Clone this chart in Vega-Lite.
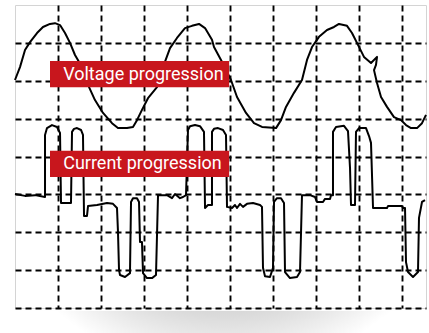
{
  "$schema": "https://vega.github.io/schema/vega-lite/v6.json",
  "width": 411,
  "height": 303,
  "autosize": "none",
  "padding": {"left": 15, "top": 5, "right": 3, "bottom": 25},
  "background": "white",
  "config": {
    "view": {"stroke": "#d4d4d4", "strokeWidth": 1},
    "axis": {"labels": false, "ticks": false, "domain": false, "title": null, "grid": true, "gridColor": "black", "gridDash": [6, 4], "gridWidth": 1.9, "gridOpacity": 1}
  },
  "datasets": {
    "voltage": [
      {"i":0,"t":0,"v":6.02},{"i":1,"t":0.116,"v":6.36},{"i":2,"t":0.233,"v":6.81},{"i":3,"t":0.349,"v":7.02},{"i":4,"t":0.512,"v":7.26},{"i":5,"t":0.651,"v":7.42},{"i":6,"t":0.814,"v":7.5},{"i":7,"t":0.93,"v":7.52},{"i":8,"t":1.047,"v":7.47},{"i":9,"t":1.163,"v":7.26},{"i":10,"t":1.279,"v":7.0},{"i":11,"t":1.395,"v":6.68},{"i":12,"t":1.558,"v":6.36},{"i":13,"t":1.698,"v":5.89},{"i":14,"t":1.86,"v":5.49},{"i":15,"t":2.047,"v":5.15},{"i":16,"t":2.256,"v":4.88},{"i":17,"t":2.395,"v":4.75},{"i":18,"t":2.605,"v":4.75},{"i":19,"t":2.744,"v":4.78},{"i":20,"t":2.837,"v":4.96},{"i":21,"t":2.953,"v":5.23},{"i":22,"t":3.093,"v":5.54},{"i":23,"t":3.302,"v":5.83},{"i":24,"t":3.442,"v":6.36},{"i":25,"t":3.605,"v":6.86},{"i":26,"t":3.767,"v":7.13},{"i":27,"t":3.953,"v":7.39},{"i":28,"t":4.116,"v":7.45},{"i":29,"t":4.279,"v":7.5},{"i":30,"t":4.419,"v":7.39},{"i":31,"t":4.581,"v":7.08},{"i":32,"t":4.628,"v":6.89},{"i":33,"t":4.791,"v":6.55},{"i":34,"t":5.023,"v":6.02},{"i":35,"t":5.163,"v":5.57},{"i":36,"t":5.372,"v":5.15},{"i":37,"t":5.558,"v":4.88},{"i":38,"t":5.744,"v":4.78},{"i":39,"t":6.07,"v":4.75},{"i":40,"t":6.186,"v":4.96},{"i":41,"t":6.302,"v":5.31},{"i":42,"t":6.488,"v":5.68},{"i":43,"t":6.674,"v":6.02},{"i":44,"t":6.791,"v":6.55},{"i":45,"t":6.907,"v":6.89},{"i":46,"t":7.07,"v":7.16},{"i":47,"t":7.256,"v":7.34},{"i":48,"t":7.419,"v":7.42},{"i":49,"t":7.535,"v":7.5},{"i":50,"t":7.721,"v":7.45},{"i":51,"t":7.837,"v":7.26},{"i":52,"t":7.953,"v":7.0},{"i":53,"t":8.116,"v":6.63},{"i":54,"t":8.279,"v":6.47},{"i":55,"t":8.419,"v":6.63},{"i":56,"t":8.395,"v":6.42},{"i":57,"t":8.349,"v":6.28},{"i":58,"t":8.419,"v":5.94},{"i":59,"t":8.512,"v":5.57},{"i":60,"t":8.651,"v":5.31},{"i":61,"t":8.814,"v":5.04},{"i":62,"t":8.977,"v":4.96},{"i":63,"t":9.093,"v":4.83},{"i":64,"t":9.209,"v":4.75},{"i":65,"t":9.349,"v":4.75},{"i":66,"t":9.465,"v":4.88},{"i":67,"t":9.558,"v":5.1}
    ],
    "current": [
      {"i":0,"t":0,"v":3.01},{"i":1,"t":0.233,"v":2.96},{"i":2,"t":0.465,"v":2.98},{"i":3,"t":0.698,"v":2.93},{"i":4,"t":0.698,"v":4.57},{"i":5,"t":0.744,"v":4.75},{"i":6,"t":0.86,"v":4.83},{"i":7,"t":0.977,"v":4.78},{"i":8,"t":1.047,"v":4.62},{"i":9,"t":1.07,"v":2.77},{"i":10,"t":1.302,"v":2.77},{"i":11,"t":1.326,"v":4.65},{"i":12,"t":1.372,"v":4.73},{"i":13,"t":1.442,"v":4.75},{"i":14,"t":1.535,"v":4.7},{"i":15,"t":1.581,"v":4.57},{"i":16,"t":1.605,"v":2.43},{"i":17,"t":1.674,"v":2.43},{"i":18,"t":1.698,"v":2.69},{"i":19,"t":1.907,"v":2.72},{"i":20,"t":2.14,"v":2.77},{"i":21,"t":2.279,"v":2.75},{"i":22,"t":2.372,"v":2.64},{"i":23,"t":2.395,"v":2.01},{"i":24,"t":2.419,"v":1.0},{"i":25,"t":2.442,"v":0.87},{"i":26,"t":2.558,"v":0.82},{"i":27,"t":2.674,"v":0.92},{"i":28,"t":2.698,"v":2.8},{"i":29,"t":2.744,"v":2.9},{"i":30,"t":2.837,"v":2.9},{"i":31,"t":2.884,"v":2.8},{"i":32,"t":2.907,"v":1.74},{"i":33,"t":2.953,"v":1.74},{"i":34,"t":2.977,"v":0.92},{"i":35,"t":3.07,"v":0.79},{"i":36,"t":3.186,"v":0.79},{"i":37,"t":3.279,"v":0.87},{"i":38,"t":3.326,"v":2.98},{"i":39,"t":3.535,"v":2.98},{"i":40,"t":3.651,"v":2.9},{"i":41,"t":3.721,"v":3.01},{"i":42,"t":3.837,"v":2.9},{"i":43,"t":3.907,"v":2.93},{"i":44,"t":3.977,"v":2.98},{"i":45,"t":4.023,"v":4.7},{"i":46,"t":4.07,"v":4.8},{"i":47,"t":4.186,"v":4.83},{"i":48,"t":4.302,"v":4.8},{"i":49,"t":4.395,"v":4.65},{"i":50,"t":4.419,"v":2.64},{"i":51,"t":4.488,"v":2.72},{"i":52,"t":4.581,"v":2.72},{"i":53,"t":4.581,"v":4.65},{"i":54,"t":4.628,"v":4.73},{"i":55,"t":4.721,"v":4.75},{"i":56,"t":4.837,"v":4.7},{"i":57,"t":4.907,"v":4.57},{"i":58,"t":4.93,"v":2.67},{"i":59,"t":5.047,"v":2.64},{"i":60,"t":5.116,"v":2.72},{"i":61,"t":5.163,"v":2.64},{"i":62,"t":5.233,"v":2.75},{"i":63,"t":5.302,"v":2.67},{"i":64,"t":5.395,"v":2.75},{"i":65,"t":5.535,"v":2.77},{"i":66,"t":5.698,"v":2.72},{"i":67,"t":5.744,"v":2.67},{"i":68,"t":5.767,"v":1.06},{"i":69,"t":5.814,"v":0.84},{"i":70,"t":5.93,"v":0.82},{"i":71,"t":6.0,"v":1.06},{"i":72,"t":6.023,"v":2.8},{"i":73,"t":6.093,"v":2.9},{"i":74,"t":6.186,"v":2.9},{"i":75,"t":6.256,"v":2.77},{"i":76,"t":6.279,"v":0.95},{"i":77,"t":6.395,"v":0.79},{"i":78,"t":6.558,"v":0.82},{"i":79,"t":6.628,"v":0.95},{"i":80,"t":6.674,"v":2.98},{"i":81,"t":6.86,"v":2.98},{"i":82,"t":6.977,"v":2.93},{"i":83,"t":7.023,"v":2.8},{"i":84,"t":7.163,"v":2.8},{"i":85,"t":7.209,"v":2.88},{"i":86,"t":7.326,"v":2.88},{"i":87,"t":7.349,"v":2.98},{"i":88,"t":7.395,"v":2.98},{"i":89,"t":7.395,"v":4.65},{"i":90,"t":7.465,"v":4.78},{"i":91,"t":7.651,"v":4.81},{"i":92,"t":7.744,"v":4.67},{"i":93,"t":7.791,"v":3.7},{"i":94,"t":7.814,"v":2.72},{"i":95,"t":7.907,"v":2.72},{"i":96,"t":7.93,"v":4.65},{"i":97,"t":8.0,"v":4.75},{"i":98,"t":8.163,"v":4.75},{"i":99,"t":8.233,"v":4.54},{"i":100,"t":8.279,"v":4.36},{"i":101,"t":8.326,"v":2.64},{"i":102,"t":8.651,"v":2.64},{"i":103,"t":8.674,"v":2.69},{"i":104,"t":9.0,"v":2.69},{"i":105,"t":9.023,"v":2.64},{"i":106,"t":9.07,"v":2.64},{"i":107,"t":9.093,"v":1.21},{"i":108,"t":9.14,"v":0.95},{"i":109,"t":9.256,"v":0.82},{"i":110,"t":9.372,"v":0.95},{"i":111,"t":9.395,"v":2.38},{"i":112,"t":9.465,"v":2.8},{"i":113,"t":9.535,"v":2.85}
    ],
    "labels": [
      {"label":"Voltage progression","x0":0.814,"x1":4.98,"y0":5.83,"y1":6.52,"tx":1.12,"ym":6.16},
      {"label":"Current progression","x0":0.814,"x1":4.98,"y0":3.46,"y1":4.15,"tx":1.12,"ym":3.79}
    ]
  },
  "layer": [
    {
      "data": {"values": [{"s": 1}]},
      "mark": {"type": "rect", "fill": {"gradient": "radial", "x1": 0.5, "y1": 0, "r1": 0, "x2": 0.5, "y2": 0, "r2": 0.62, "stops": [{"offset": 0, "color": "#6e6e6e"}, {"offset": 0.4, "color": "#9c9c9c"}, {"offset": 0.75, "color": "#d8d8d8"}, {"offset": 1, "color": "#ffffff"}]}},
      "encoding": {
        "x": {"datum": 0.1, "type": "quantitative", "scale": {"domain": [0, 9.558], "nice": false, "zero": false}, "axis": {"values": [1,2,3,4,5,6,7,8,9]}},
        "x2": {"datum": 9.6},
        "y": {"datum": -0.07, "type": "quantitative", "scale": {"domain": [0, 8], "nice": false, "zero": false}, "axis": {"values": [0,1,2,3,4,5,6,7]}},
        "y2": {"datum": -0.85}
      }
    },
    {
      "data": {"name": "voltage"},
      "mark": {"type": "line", "color": "black", "strokeWidth": 2, "strokeJoin": "round"},
      "encoding": {
        "x": {"field": "t", "type": "quantitative"},
        "y": {"field": "v", "type": "quantitative"},
        "order": {"field": "i"}
      }
    },
    {
      "data": {"name": "current"},
      "mark": {"type": "line", "color": "black", "strokeWidth": 2, "strokeJoin": "round"},
      "encoding": {
        "x": {"field": "t", "type": "quantitative"},
        "y": {"field": "v", "type": "quantitative"},
        "order": {"field": "i"}
      }
    },
    {
      "data": {"name": "labels"},
      "mark": {"type": "rect", "color": "#c8161d"},
      "encoding": {
        "x": {"field": "x0", "type": "quantitative"},
        "x2": {"field": "x1"},
        "y": {"field": "y0", "type": "quantitative"},
        "y2": {"field": "y1"}
      }
    },
    {
      "data": {"name": "labels"},
      "mark": {"type": "text", "color": "white", "font": "Roboto", "fontSize": 18, "align": "left", "baseline": "middle"},
      "encoding": {
        "x": {"field": "tx", "type": "quantitative"},
        "y": {"field": "ym", "type": "quantitative"},
        "text": {"field": "label"}
      }
    }
  ]
}
